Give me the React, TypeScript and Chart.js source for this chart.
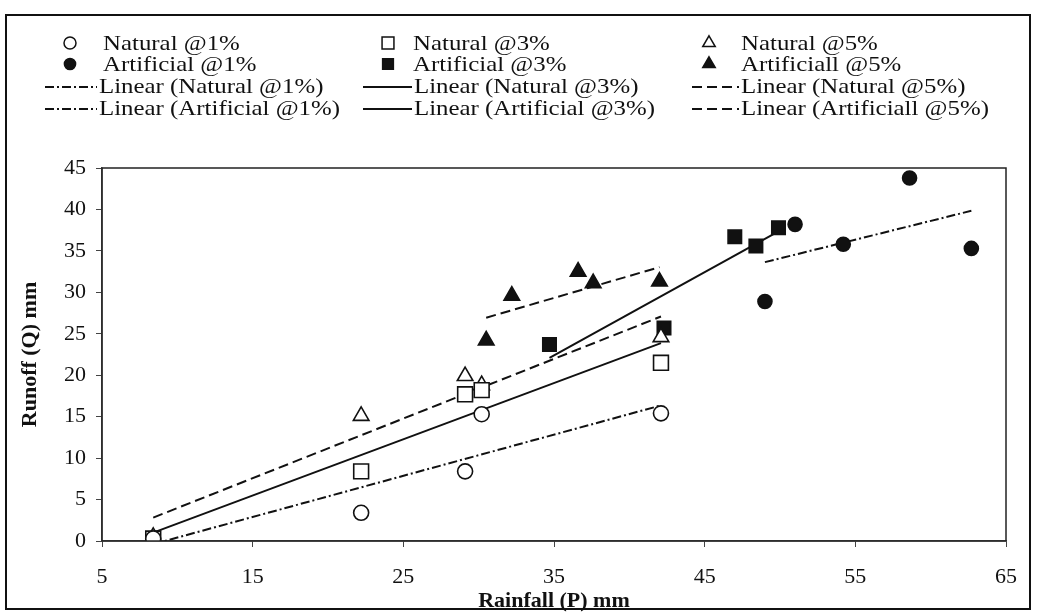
import React, { useEffect, useRef } from "react";
import { Chart, registerables } from "chart.js";
import { drawPoint } from "chart.js/helpers";

Chart.register(...registerables);

// ---- Data ----
const natRain1 = [8.4, 22.2, 29.1, 30.2, 42.1];
const natRun1 = [0.3, 3.4, 8.4, 15.3, 15.4];
const natRain3 = [8.4, 22.2, 29.1, 30.2, 42.1];
const natRun3 = [0.3, 8.4, 17.7, 18.2, 21.5];
const natRain5 = [8.4, 22.2, 29.1, 30.2, 42.1];
const natRun5 = [0.5, 15.1, 19.9, 18.8, 24.6];
const artRain1 = [49.0, 51.0, 54.2, 58.6, 62.7];
const artRun1 = [28.9, 38.2, 35.8, 43.8, 35.3];
const artRain3 = [34.7, 42.3, 47.0, 48.4, 49.9];
const artRun3 = [23.7, 25.7, 36.7, 35.6, 37.8];
const artRain5 = [30.5, 32.2, 36.6, 37.6, 42.0];
const artRun5 = [24.2, 29.6, 32.5, 31.1, 31.3];

const seriesLabels = [
  "Natural @1%",
  "Natural @3%",
  "Natural @5%",
  "Artificial @1%",
  "Artificial @3%",
  "Artificiall @5%",
];
const trendLabels = [
  "Linear (Natural @1%)",
  "Linear (Natural @3%)",
  "Linear (Natural @5%)",
  "Linear (Artificial @1%)",
  "Linear (Artificial @3%)",
  "Linear (Artificiall @5%)",
];

const xTitle = "Rainfall (P) mm";
const yTitle = "Runoff (Q) mm";
const xMin = 5, xMax = 65, xStep = 10;
const yMin = 0, yMax = 45, yStep = 5;

// ---- helpers ----
function toPoints(xs: number[], ys: number[]) {
  return xs.map((x, i) => ({ x, y: ys[i] }));
}
function linearFit(xs: number[], ys: number[]) {
  const n = xs.length;
  const mx = xs.reduce((a, b) => a + b, 0) / n;
  const my = ys.reduce((a, b) => a + b, 0) / n;
  let sxy = 0, sxx = 0;
  for (let i = 0; i < n; i++) {
    sxy += (xs[i] - mx) * (ys[i] - my);
    sxx += (xs[i] - mx) * (xs[i] - mx);
  }
  const m = sxy / sxx;
  const b = my - m * mx;
  const x0 = Math.min(...xs), x1 = Math.max(...xs);
  return [{ x: x0, y: m * x0 + b }, { x: x1, y: m * x1 + b }];
}

const FONT = '"Liberation Serif", "Times New Roman", serif';
const INK = "#111";
const DASH_DOT = [9, 3, 2, 3];
const SOLID: number[] = [];
const DASHED = [10, 5];

const groups = [
  { xs: natRain1, ys: natRun1, style: "circle", filled: false, r: 7.5, dash: DASH_DOT },
  { xs: natRain3, ys: natRun3, style: "rect", filled: false, r: 10.5, dash: SOLID },
  { xs: natRain5, ys: natRun5, style: "triangle", filled: false, r: 9, dash: DASHED },
  { xs: artRain1, ys: artRun1, style: "circle", filled: true, r: 7, dash: DASH_DOT },
  { xs: artRain3, ys: artRun3, style: "rect", filled: true, r: 9.5, dash: SOLID },
  { xs: artRain5, ys: artRun5, style: "triangle", filled: true, r: 9, dash: DASHED },
];

const frameAndLegend = {
  id: "frameAndLegend",
  afterDraw(chart: any) {
    const ctx = chart.ctx as CanvasRenderingContext2D;
    const ca = chart.chartArea;
    ctx.save();
    // plot box
    ctx.strokeStyle = "#222";
    ctx.lineWidth = 1.5;
    ctx.strokeRect(ca.left, ca.top, ca.right - ca.left, ca.bottom - ca.top);
    // outer frame
    ctx.lineWidth = 2;
    ctx.strokeStyle = "#111";
    ctx.strokeRect(6, 15, 1024, 594);

    // legend: 3 columns x 4 rows
    const colMarkerX = [70, 388, 709];
    const colTextX = [103, 413, 741];
    const colLineX0 = [45, 363, 692];
    const colLineX1 = [97, 412, 739];
    const rowY = [43, 64, 86, 108];
    ctx.font = `22px ${FONT}`;
    ctx.textBaseline = "middle";
    ctx.fillStyle = INK;
    const ds = chart.data.datasets;
    for (let col = 0; col < 3; col++) {
      for (let row = 0; row < 4; row++) {
        const idx = row < 2 ? col + row * 3 : 6 + col + (row - 2) * 3;
        const d = ds[idx];
        const y = rowY[row];
        let tx: number;
        if (row < 2) {
          ctx.save();
          ctx.fillStyle = d.backgroundColor;
          ctx.strokeStyle = d.borderColor;
          ctx.lineWidth = 1.5;
          drawPoint(ctx, { pointStyle: d.pointStyle, radius: d.pointRadius * 0.8, borderWidth: 1.5, rotation: 0 } as any, colMarkerX[col], y);
          ctx.restore();
          tx = colTextX[col];
        } else {
          ctx.save();
          ctx.strokeStyle = INK;
          ctx.lineWidth = 2;
          ctx.setLineDash(d.borderDash || []);
          ctx.beginPath();
          ctx.moveTo(colLineX0[col], y + 1);
          ctx.lineTo(colLineX1[col], y + 1);
          ctx.stroke();
          ctx.restore();
          tx = colLineX1[col] + 2;
        }
        ctx.save();
        ctx.translate(tx, y + 1);
        ctx.scale(1.13, 1);
        ctx.fillStyle = INK;
        ctx.fillText(d.label, 0, 0);
        ctx.restore();
      }
    }
    ctx.restore();
  },
};

export default function App() {
  const ref = useRef<HTMLCanvasElement | null>(null);
  useEffect(() => {
    document.body.style.margin = "0";
    const canvas = ref.current;
    if (!canvas) return;
    const markerSets = groups.map((g, i) => ({
      label: seriesLabels[i],
      data: toPoints(g.xs, g.ys),
      pointStyle: g.style,
      pointRadius: g.r,
      pointHoverRadius: g.r,
      pointBorderWidth: 1.6,
      backgroundColor: g.filled ? INK : "#ffffff",
      borderColor: INK,
      showLine: false,
      order: 1,
    }));
    const trendSets = groups.map((g, i) => ({
      label: trendLabels[i],
      data: linearFit(g.xs, g.ys),
      showLine: true,
      pointRadius: 0,
      pointHoverRadius: 0,
      borderColor: INK,
      backgroundColor: INK,
      borderWidth: 2,
      borderDash: g.dash,
      fill: false,
      order: 2,
    }));
    const chart = new Chart(canvas, {
      type: "scatter",
      data: { datasets: [...markerSets, ...trendSets] as any },
      options: {
        animation: false,
        responsive: false,
        layout: { padding: { top: 168, right: 31, bottom: 0, left: 0 } },
        plugins: { legend: { display: false }, tooltip: { enabled: false } },
        scales: {
          x: {
            type: "linear",
            min: xMin,
            max: xMax,
            afterFit: (s: any) => { s.height = 75; },
            ticks: { stepSize: xStep, color: INK, font: { family: FONT, size: 22 }, padding: 17 },
            grid: { drawOnChartArea: false, drawTicks: true, tickLength: 6, color: "#444" },
            border: { display: true, color: "#555", width: 1.5 },
            title: { display: true, text: xTitle, color: INK, font: { family: FONT, size: 22, weight: "bold" }, padding: { top: 0, bottom: 1 } },
          },
          y: {
            type: "linear",
            min: yMin,
            max: yMax,
            afterFit: (s: any) => { s.width = 102; },
            ticks: { stepSize: yStep, color: INK, font: { family: FONT, size: 22 }, padding: 10 },
            grid: { drawOnChartArea: false, drawTicks: true, tickLength: 6, color: "#444" },
            border: { display: true, color: "#555", width: 1.5 },
            title: { display: true, text: yTitle, color: INK, font: { family: FONT, size: 22, weight: "bold" }, padding: { top: 17, bottom: 0 } },
          },
        },
      },
      plugins: [frameAndLegend],
    });
    return () => chart.destroy();
  }, []);
  return (
    <div style={{ width: 1037, height: 616, background: "#fff" }}>
      <canvas ref={ref} width={1037} height={616} style={{ display: "block" }} />
    </div>
  );
}
